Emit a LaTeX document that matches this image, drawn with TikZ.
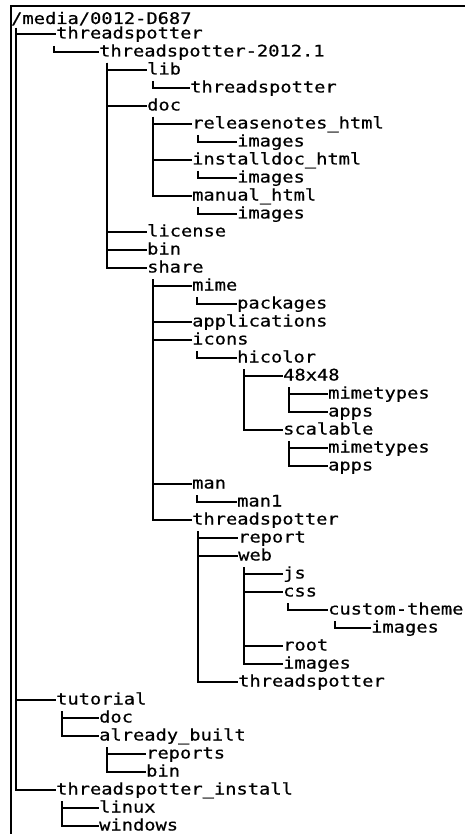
\documentclass[tikz,border=0pt]{standalone}
\usepackage{fontspec}
\setmonofont{DejaVu Sans Mono}[FakeStretch=1.17,FakeBold=0.6]
\begin{document}
\begin{tikzpicture}[x=1pt,y=-1pt,
  lbl/.style={anchor=west,inner sep=0pt,text height=9pt,text depth=0pt,
    font=\ttfamily\fontsize{16}{18}\selectfont},
  conn/.style={line width=1.7pt,line join=miter},
  frame/.style={line width=2.2pt}]
\useasboundingbox[fill=white] (0,0) rectangle (464,834);
\draw[frame] (11,835) -- (11,6) -- (465,6);
% nodes
\node[lbl] (root) at (11,19.5) {/media/0012-D687};
\node[lbl] (ts1) at (56,34) {threadspotter};
\node[lbl] (tsv) at (99,52) {threadspotter-2012.1};
\node[lbl] (lib) at (147,70) {lib};
\node[lbl] (libts) at (190,88) {threadspotter};
\node[lbl] (doc) at (147,106) {doc};
\node[lbl] (rel) at (192,124) {releasenotes\_html};
\node[lbl] (img1) at (237,142) {images};
\node[lbl] (inst) at (192,160) {installdoc\_html};
\node[lbl] (img2) at (237,178) {images};
\node[lbl] (man) at (192,196) {manual\_html};
\node[lbl] (img3) at (237,214) {images};
\node[lbl] (lic) at (147,232) {license};
\node[lbl] (bin) at (147,250) {bin};
\node[lbl] (share) at (147,268) {share};
\node[lbl] (mime) at (192,286) {mime};
\node[lbl] (pack) at (237,304) {packages};
\node[lbl] (appl) at (192,322) {applications};
\node[lbl] (icons) at (192,340) {icons};
\node[lbl] (hic) at (237,358) {hicolor};
\node[lbl] (f48) at (283,376) {48x48};
\node[lbl] (mt1) at (328,394) {mimetypes};
\node[lbl] (ap1) at (328,412) {apps};
\node[lbl] (scal) at (283,430) {scalable};
\node[lbl] (mt2) at (328,448) {mimetypes};
\node[lbl] (ap2) at (328,466) {apps};
\node[lbl] (mn) at (192,484) {man};
\node[lbl] (mn1) at (237,502) {man1};
\node[lbl] (tss) at (192,520) {threadspotter};
\node[lbl] (rep) at (238,538) {report};
\node[lbl] (web) at (238,556) {web};
\node[lbl] (js) at (283,574) {js};
\node[lbl] (css) at (283,592) {css};
\node[lbl] (cust) at (328,610) {custom-theme};
\node[lbl] (imgc) at (371,628) {images};
\node[lbl] (wroot) at (283,646) {root};
\node[lbl] (imgw) at (283,664) {images};
\node[lbl] (tsts) at (238,682) {threadspotter};
\node[lbl] (tut) at (56,700) {tutorial};
\node[lbl] (tdoc) at (99,718) {doc};
\node[lbl] (alb) at (99,736) {already\_built};
\node[lbl] (reps) at (146,754) {reports};
\node[lbl] (tbin) at (146,772) {bin};
\node[lbl] (tsi) at (56,790) {threadspotter\_install};
\node[lbl] (lin) at (99,808) {linux};
\node[lbl] (win) at (99,826) {windows};
% connectors
\foreach \c in {ts1,tut,tsi} \draw[conn] ([shift={(5,8.5)}]root.west) |- (\c.west);
\draw[conn] ([shift={(-2,12)}]ts1.west) |- (tsv.west);
\foreach \c in {lib,doc,lic,bin,share} \draw[conn] ([shift={(8,11)}]tsv.west) |- (\c.west);
\draw[conn] ([shift={(6,11)}]lib.west) |- (libts.west);
\foreach \c in {rel,inst,man} \draw[conn] ([shift={(6,11)}]doc.west) |- (\c.west);
\draw[conn] ([shift={(6,11)}]rel.west) |- (img1.west);
\draw[conn] ([shift={(6,11)}]inst.west) |- (img2.west);
\draw[conn] ([shift={(6,11)}]man.west) |- (img3.west);
\foreach \c in {mime,appl,icons,mn,tss} \draw[conn] ([shift={(6,11)}]share.west) |- (\c.west);
\draw[conn] ([shift={(5,11)}]mime.west) |- (pack.west);
\draw[conn] ([shift={(5,11)}]icons.west) |- (hic.west);
\foreach \c in {f48,scal} \draw[conn] ([shift={(7,11)}]hic.west) |- (\c.west);
\foreach \c in {mt1,ap1} \draw[conn] ([shift={(6,11)}]f48.west) |- (\c.west);
\foreach \c in {mt2,ap2} \draw[conn] ([shift={(6,11)}]scal.west) |- (\c.west);
\draw[conn] ([shift={(5,11)}]mn.west) |- (mn1.west);
\foreach \c in {rep,web,tsts} \draw[conn] ([shift={(6,11)}]tss.west) |- (\c.west);
\foreach \c in {js,css,wroot,imgw} \draw[conn] ([shift={(6,11)}]web.west) |- (\c.west);
\draw[conn] ([shift={(5,11)}]css.west) |- (cust.west);
\draw[conn] ([shift={(7,11)}]cust.west) |- (imgc.west);
\foreach \c in {tdoc,alb} \draw[conn] ([shift={(6,11)}]tut.west) |- (\c.west);
\foreach \c in {reps,tbin} \draw[conn] ([shift={(8,11)}]alb.west) |- (\c.west);
\foreach \c in {lin,win} \draw[conn] ([shift={(6,11)}]tsi.west) |- (\c.west);
\end{tikzpicture}
\end{document}
